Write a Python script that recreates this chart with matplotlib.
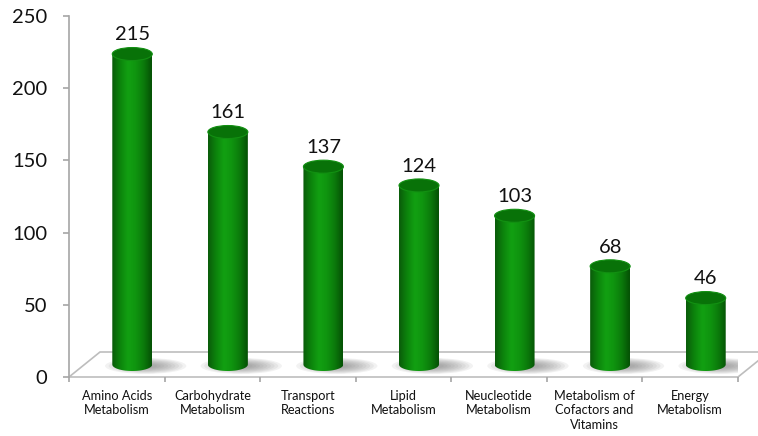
import numpy as np
import matplotlib
matplotlib.use("Agg")
import matplotlib.pyplot as plt
from matplotlib.patches import Ellipse, Polygon, PathPatch
from matplotlib.path import Path
from matplotlib.colors import LinearSegmentedColormap

categories = ["Amino Acids\nMetabolism", "Carbohydrate\nMetabolism", "Transport\nReactions",
              "Lipid\nMetabolism", "Neucleotide\nMetabolism", "Metabolism of\nCofactors and\nVitamins",
              "Energy\nMetabolism"]
values = [215, 161, 137, 124, 103, 68, 46]
yticks = [0, 50, 100, 150, 200, 250]

plt.rcParams['font.family'] = ['Lato', 'DejaVu Sans']

W, H = 758, 436
fig = plt.figure(figsize=(W / 100, H / 100), dpi=100)
ax = fig.add_axes([69 / W, (H - 377) / H, 669 / W, 361 / H])
n = len(values)
ax.set_xlim(0, n)
ax.set_ylim(0, 250)

pxx = 669 / n          # px per x unit
pxy = 361 / 250        # px per y unit

# 3d floor
fdx, fdy = 31 / pxx, 25 / pxy
floor = Polygon([(0, 0), (fdx, fdy), (n + fdx, fdy), (n, 0)], closed=True,
                facecolor="white", edgecolor="#bdbdbd", lw=1.2, zorder=1, clip_on=False)
ax.add_patch(floor)

# cylinders sit in the middle of the floor depth
dx, dy = fdx / 2, fdy / 2
bw = 40 / pxx
eh = 13 / pxy
cmap = LinearSegmentedColormap.from_list("cyl", ["#0a5c0a", "#0c840c", "#12a012", "#0f940f", "#0b7a0b", "#055205"])
grad = np.linspace(0, 1, 64).reshape(1, -1)

t = np.linspace(np.pi, 2 * np.pi, 40)
for i, v in enumerate(values):
    xc = i + 0.5 + dx
    x0, x1 = xc - bw / 2, xc + bw / 2
    top = v + dy

    # shadow on floor
    for k in range(9):
        s = 1 - k * 0.09
        ax.add_patch(Ellipse((xc + 0.14, dy - 1.0), 0.85 * s, 16 / pxy * s,
                             facecolor="#707070", edgecolor="none", alpha=0.09, zorder=2))

    # body with horizontal gradient
    arc = np.column_stack([xc + bw / 2 * np.cos(t), dy + eh / 2 * np.sin(t)])
    verts = np.vstack([[x0, top], arc, [x1, top], [x0, top]])
    clip = PathPatch(Path(verts), transform=ax.transData, facecolor="none", edgecolor="none")
    ax.add_patch(clip)
    im = ax.imshow(grad, cmap=cmap, aspect="auto", extent=[x0, x1, dy - eh, top],
                   zorder=3, interpolation="bicubic")
    im.set_clip_path(clip)

    # top cap
    ax.add_patch(Ellipse((xc, top), bw, eh, facecolor="#087208", edgecolor="#129012",
                         lw=0.8, zorder=4))

    ax.annotate(str(v), (xc, top + eh / 2), xytext=(0, 3), textcoords="offset points",
                ha="center", va="bottom", fontsize=14.5, color="#111111")

ax.set_xlim(0, n)
ax.set_ylim(0, 250)

for s in ["top", "right", "bottom"]:
    ax.spines[s].set_visible(False)
ax.spines["left"].set_color("#a6a6a6")
ax.spines["left"].set_linewidth(1.2)

ax.set_yticks(yticks)
ax.set_yticklabels([str(y) for y in yticks], fontsize=14.5, color="#111111")
ax.tick_params(axis="y", length=4.5, width=1.2, color="#a6a6a6", pad=11)

ax.set_xticks(range(n + 1))
ax.set_xticklabels([])
ax.tick_params(axis="x", which="major", length=3.5, width=1.2, color="#a6a6a6")
ax.set_xticks(np.arange(n) + 0.5, minor=True)
ax.set_xticklabels(categories, minor=True, fontsize=9.2, linespacing=1.25, color="#111111")
ax.tick_params(axis="x", which="minor", length=0, pad=9)

fig.savefig("out.png", dpi=100)
